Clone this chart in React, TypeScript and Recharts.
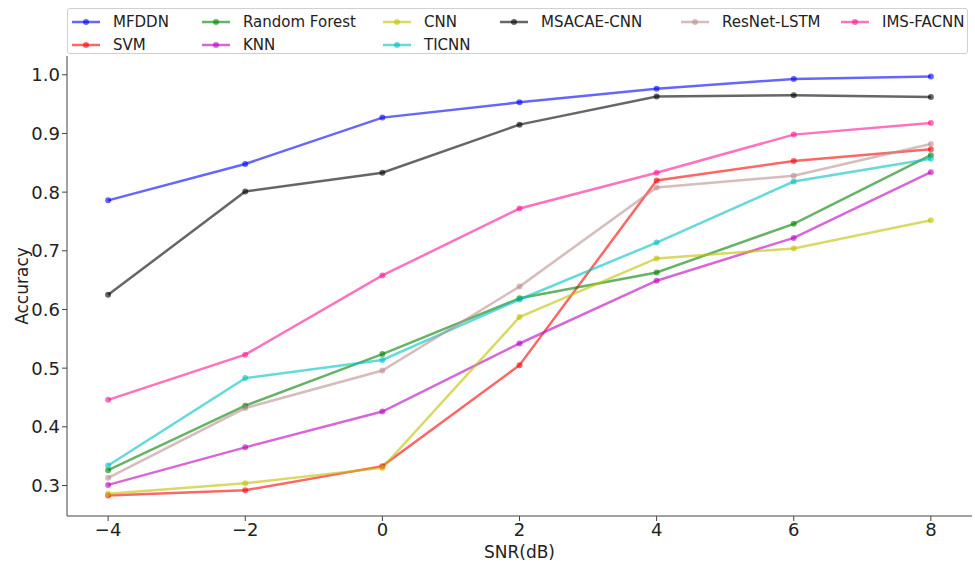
import { LineChart, Line, XAxis, YAxis } from "recharts";

const snr = [-4, -2, 0, 2, 4, 6, 8];

const mfddn = [0.786, 0.848, 0.927, 0.953, 0.976, 0.993, 0.997];
const svm = [0.283, 0.292, 0.333, 0.505, 0.82, 0.853, 0.873];
const randomForest = [0.326, 0.436, 0.524, 0.619, 0.663, 0.746, 0.863];
const knn = [0.301, 0.365, 0.426, 0.542, 0.649, 0.722, 0.834];
const cnn = [0.286, 0.304, 0.33, 0.587, 0.687, 0.704, 0.752];
const ticnn = [0.334, 0.483, 0.514, 0.617, 0.714, 0.818, 0.857];
const msacaeCnn = [0.625, 0.801, 0.833, 0.915, 0.963, 0.965, 0.962];
const resnetLstm = [0.313, 0.432, 0.496, 0.639, 0.808, 0.828, 0.882];
const imsFacnn = [0.446, 0.523, 0.658, 0.772, 0.833, 0.898, 0.918];

const xTicks = [-4, -2, 0, 2, 4, 6, 8];
const yTicks = [0.3, 0.4, 0.5, 0.6, 0.7, 0.8, 0.9, 1.0];

const series = [
  { name: "MFDDN", values: mfddn, color: "#0000ff" },
  { name: "SVM", values: svm, color: "#ff0000" },
  { name: "Random Forest", values: randomForest, color: "#008000" },
  { name: "KNN", values: knn, color: "#bf00bf" },
  { name: "CNN", values: cnn, color: "#bfbf00" },
  { name: "TICNN", values: ticnn, color: "#00bfbf" },
  { name: "MSACAE-CNN", values: msacaeCnn, color: "#000000" },
  { name: "ResNet-LSTM", values: resnetLstm, color: "#bc8f8f" },
  { name: "IMS-FACNN", values: imsFacnn, color: "#ff1493" },
];

const data = snr.map((x, i) => {
  const row: Record<string, number> = { snr: x };
  series.forEach((s) => (row[s.name] = s.values[i]));
  return row;
});

const font = "'DejaVu Sans', sans-serif";
const frame = "#444";
const minus = (v: number) => (v < 0 ? "\u2212" + Math.abs(v) : String(v));

// matplotlib ncol=6: first three columns get two entries, the rest one
const legendSlots = [
  [0, 0], [0, 1], [1, 0], [1, 1], [2, 0], [2, 1], [3, 0], [4, 0], [5, 0],
];
const legendCols = [70, 200, 381, 498, 679, 839];
const legendRows = [21, 44];

function LegendBox() {
  return (
    <div
      style={{
        position: "absolute",
        left: 67,
        top: 8,
        width: 901,
        height: 46,
        border: "1px solid #d0d0d0",
        borderRadius: 3,
        background: "rgba(255,255,255,0.8)",
        boxSizing: "border-box",
      }}
    >
      {series.map((s, i) => {
        const [col, row] = legendSlots[i];
        return (
          <div
            key={s.name}
            style={{
              position: "absolute",
              left: legendCols[col] - 67,
              top: legendRows[row] - 8 - 10,
              height: 20,
              display: "flex",
              alignItems: "center",
              fontFamily: font,
              fontSize: 15,
              color: "#222",
              whiteSpace: "nowrap",
            }}
          >
            <svg width={30} height={20} style={{ marginRight: 12 }}>
              <line x1={1} y1={10} x2={29} y2={10} stroke={s.color} strokeOpacity={0.6} strokeWidth={2.5} />
              <circle cx={15} cy={10} r={3} fill={s.color} fillOpacity={0.6} />
            </svg>
            {s.name}
          </div>
        );
      })}
    </div>
  );
}

export default function App() {
  return (
    <div style={{ position: "absolute", left: 0, top: 0, width: 975, height: 562, background: "#fff" }}>
      <LineChart width={975} height={562} data={data} margin={{ top: 56, right: 3, bottom: 16, left: 17 }}>
        <XAxis
          dataKey="snr"
          type="number"
          domain={[-4.6, 8.6]}
          ticks={xTicks}
          tickFormatter={minus}
          height={30}
          stroke={frame}
          tickSize={5}
          tick={{ fill: "#222", fontSize: 18, fontFamily: font }}
          label={{ value: "SNR(dB)", position: "insideBottom", offset: -12, fill: "#222", fontSize: 17, fontFamily: font }}
        />
        <XAxis xAxisId="top" orientation="top" dataKey="snr" type="number" domain={[-4.6, 8.6]} height={0} tick={false} tickLine={false} stroke={frame} />
        <YAxis
          type="number"
          domain={[0.248, 1.032]}
          ticks={yTicks}
          tickFormatter={(v: number) => v.toFixed(1)}
          width={50}
          stroke={frame}
          tickSize={5}
          tick={{ fill: "#222", fontSize: 18, fontFamily: font }}
          label={{ value: "Accuracy", angle: -90, position: "insideLeft", offset: 5, fill: "#222", fontSize: 17, fontFamily: font, style: { textAnchor: "middle" } }}
        />
        <YAxis yAxisId="right" orientation="right" domain={[0.248, 1.032]} width={0} tick={false} tickLine={false} stroke={frame} />
        {series.map((s) => (
          <Line
            key={s.name}
            dataKey={s.name}
            stroke={s.color}
            strokeOpacity={0.6}
            strokeWidth={2.5}
            dot={{ r: 3, fill: s.color, fillOpacity: 0.6, stroke: "none" }}
            activeDot={false}
            isAnimationActive={false}
          />
        ))}
      </LineChart>
      <LegendBox />
    </div>
  );
}
